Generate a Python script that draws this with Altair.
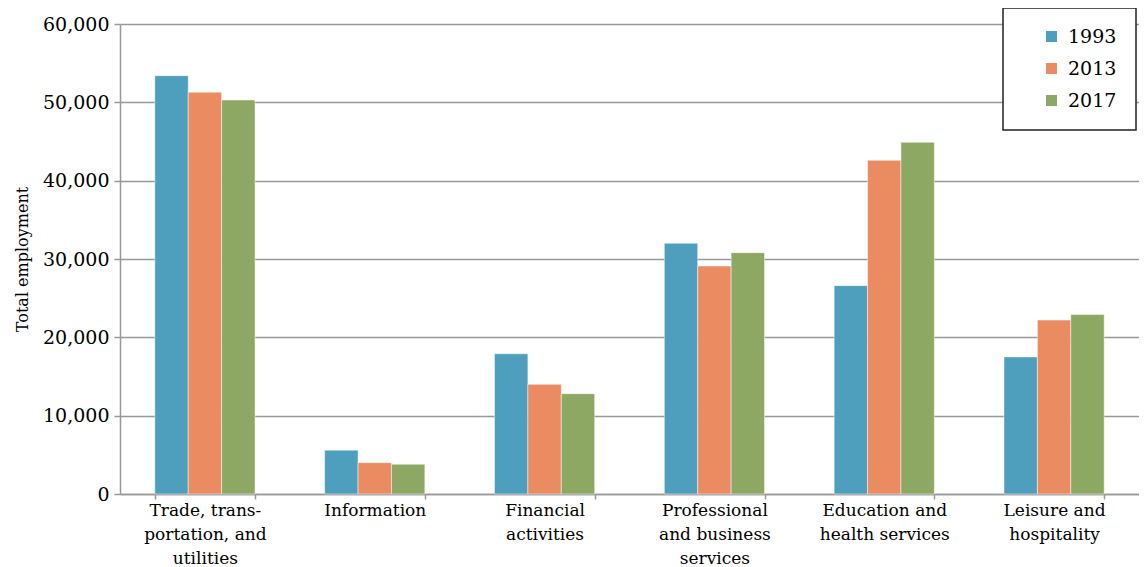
import altair as alt
import pandas as pd

categories = [
    "Trade, trans-|portation, and|utilities",
    "Information",
    "Financial|activities",
    "Professional|and business|services",
    "Education and|health services",
    "Leisure and|hospitality",
]
years = ["1993", "2013", "2017"]
values_1993 = [53400, 5600, 17900, 32000, 26600, 17500]
values_2013 = [51300, 4000, 14000, 29100, 42600, 22200]
values_2017 = [50300, 3800, 12800, 30800, 44900, 22900]
colors = ["#4e9fbd", "#ea8b61", "#8da862"]

rows = []
for yr, vals in zip(years, [values_1993, values_2013, values_2017]):
    for c, v in zip(categories, vals):
        rows.append({"category": c, "year": yr, "value": v})
df = pd.DataFrame(rows)

FONT = "DejaVu Serif"

chart = alt.Chart(df).mark_bar(
    stroke="white", strokeWidth=0.8, strokeOpacity=0.6
).encode(
    x=alt.X(
        "category:N",
        sort=categories,
        scale=alt.Scale(paddingInner=0.41, paddingOuter=0.205),
        axis=alt.Axis(
            title=None,
            labelAngle=0,
            labelExpr="split(datum.label, '|')",
            labelFont=FONT,
            labelFontSize=17,
            labelColor="black",
            labelLineHeight=24,
            labelPadding=3,
            labelBaseline="top",
            tickBand="extent",
            tickColor="#999999",
            tickSize=5,
            tickWidth=1.5,
            domainColor="#999999",
            domainWidth=1.5,
            grid=False,
        ),
    ),
    xOffset=alt.XOffset("year:N", sort=years),
    y=alt.Y(
        "value:Q",
        scale=alt.Scale(domain=[0, 60000], nice=False),
        axis=alt.Axis(
            title="Total employment",
            titleFont=FONT,
            titleFontSize=16,
            titleFontWeight="normal",
            titleColor="black",
            titlePadding=12,
            values=[0, 10000, 20000, 30000, 40000, 50000, 60000],
            format=",.0f",
            labelFont=FONT,
            labelFontSize=19,
            labelColor="black",
            labelPadding=5,
            tickColor="#999999",
            tickSize=6,
            tickWidth=1.5,
            domainColor="#999999",
            domainWidth=1.5,
            grid=True,
            gridColor="#999999",
            gridWidth=1.5,
        ),
    ),
    color=alt.Color(
        "year:N",
        sort=years,
        scale=alt.Scale(domain=years, range=colors),
        legend=alt.Legend(
            title=None,
            orient="none",
            legendX=883,
            legendY=-16,
            symbolType="square",
            symbolSize=121,
            symbolStrokeWidth=0,
            symbolOffset=20,
            labelOffset=7,
            labelFont=FONT,
            labelFontSize=19,
            labelColor="black",
            rowPadding=12,
            padding=19,
            strokeColor="#222222",
            fillColor="white",
        ),
    ),
).properties(
    width=1019,
    height=470,
    autosize=alt.AutoSizeParams(type="none"),
    padding={"left": 112, "top": 16, "right": 0, "bottom": 72},
).configure_view(
    stroke=None
).configure_legend(
    strokeWidth=1.5
)

chart.save("out.html", embed_options={"renderer": "svg", "actions": False})
